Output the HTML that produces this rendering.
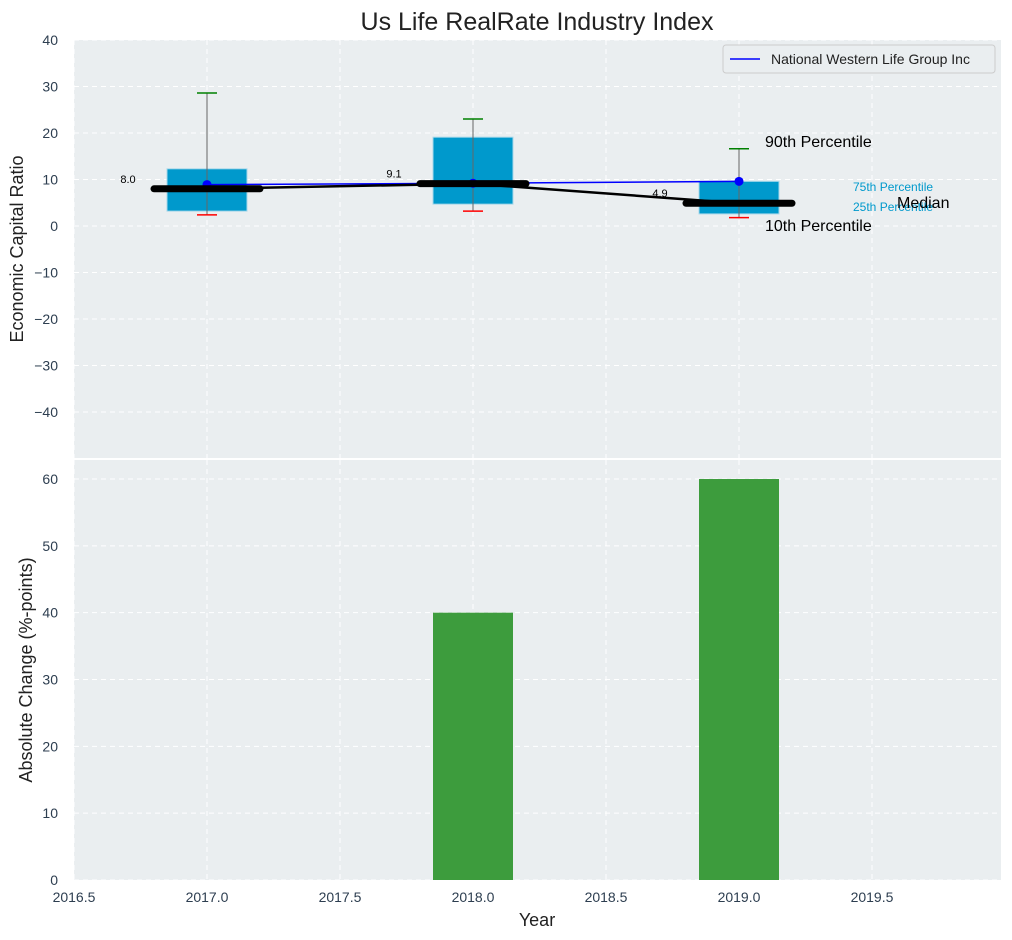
<!DOCTYPE html>
<html><head><meta charset="utf-8"><style>
body{margin:0;background:#fff;}
svg{display:block;font-family:"Liberation Sans","DejaVu Sans",sans-serif;}
</style></head><body>
<svg id="c" width="1012" height="940" xmlns="http://www.w3.org/2000/svg"></svg>
<script>
const years=[2017,2018,2019];
const p10=[2.4,3.2,1.8];
const p25=[3.2,4.7,2.6];
const p50=[8.0,9.1,4.9];
const p75=[12.3,19.1,9.6];
const p90=[28.6,23.0,16.6];
const company=[8.9,9.2,9.6];
const changeVals=[0,40,60];
const topTicks=[-40,-30,-20,-10,0,10,20,30,40];
const botTicks=[0,10,20,30,40,50,60];
const xTicks=[2016.5,2017,2017.5,2018,2018.5,2019,2019.5];

const NS="http://www.w3.org/2000/svg";
const svg=document.getElementById('c');
function el(t,a,p){const e=document.createElementNS(NS,t);for(const k in a)e.setAttribute(k,a[k]);(p||svg).appendChild(e);return e;}
const L=74,R=1001;
const X=v=>L+(v-2016.5)*266;
const Y1=v=>226-v*4.65;
const Y2=v=>880-v*(401/60);

let b=el('rect',{x:L,y:40,width:R-L,height:418,fill:'#eaeef0'});

b=el('rect',{x:L,y:460,width:R-L,height:420,fill:'#eaeef0'});


xTicks.forEach(v=>{
  el('line',{x1:X(v),x2:X(v),y1:40,y2:458,stroke:'#fff','stroke-dasharray':'5,4','stroke-width':1});
  el('line',{x1:X(v),x2:X(v),y1:460,y2:880,stroke:'#fff','stroke-dasharray':'5,4','stroke-width':1});
  const t=el('text',{x:X(v),y:902,'text-anchor':'middle','font-size':14,fill:'#2d3e50'});t.textContent=v.toFixed(1);
  
});
topTicks.forEach(v=>{
  el('line',{x1:L,x2:R,y1:Y1(v),y2:Y1(v),stroke:'#fff','stroke-dasharray':'5,4'});
  const t=el('text',{x:58,y:Y1(v)+5,'text-anchor':'end','font-size':14,fill:'#2d3e50'});t.textContent=v<0?'\u2212'+(-v):v;
  
});
botTicks.forEach(v=>{
  el('line',{x1:L,x2:R,y1:Y2(v),y2:Y2(v),stroke:'#fff','stroke-dasharray':'5,4'});
  const t=el('text',{x:58,y:Y2(v)+5,'text-anchor':'end','font-size':14,fill:'#2d3e50'});t.textContent=v;
  
});

years.forEach((yr,i)=>{
  const cx=X(yr),hw=40;
  let r=el('rect',{x:cx-hw,y:Y1(p75[i]),width:2*hw,height:Y1(p25[i])-Y1(p75[i]),fill:'#0099cc',stroke:'#a8d8ea','stroke-width':1});
  
  el('line',{x1:cx,x2:cx,y1:Y1(p90[i]),y2:Y1(p10[i]),stroke:'#666','stroke-width':1});
  let w=el('line',{x1:cx-10,x2:cx+10,y1:Y1(p90[i]),y2:Y1(p90[i]),stroke:'green','stroke-width':1.5});
  
  w=el('line',{x1:cx-10,x2:cx+10,y1:Y1(p10[i]),y2:Y1(p10[i]),stroke:'red','stroke-width':1.5});
  
});
let pts=years.map((y,i)=>X(y)+','+Y1(company[i])).join(' ');
let pl=el('polyline',{points:pts,fill:'none',stroke:'blue','stroke-width':1.5});

years.forEach((y,i)=>{const c=el('circle',{cx:X(y),cy:Y1(company[i]),r:4.5,fill:'blue'});
});
pts=years.map((y,i)=>X(y)+','+Y1(p50[i])).join(' ');
pl=el('polyline',{points:pts,fill:'none',stroke:'#000','stroke-width':2.5});

years.forEach((y,i)=>{
  const m=el('line',{x1:X(y)-53,x2:X(y)+53,y1:Y1(p50[i]),y2:Y1(p50[i]),stroke:'#000','stroke-width':7,'stroke-linecap':'round'});
  
  const t=el('text',{x:X(y)-79,y:Y1(p50[i])-6,'text-anchor':'middle','font-size':11,fill:'#000'});t.textContent=p50[i].toFixed(1);
  
});
const ann=[['90th Percentile',765,147,16,'#000'],['10th Percentile',765,231,16,'#000'],['75th Percentile',853,191,12,'#0099cc'],['25th Percentile',853,211,12,'#0099cc'],['Median',897,208,16,'#000']];
ann.forEach(a=>{const t=el('text',{x:a[1],y:a[2],'font-size':a[3],fill:a[4]});t.textContent=a[0];
});

years.forEach((y,i)=>{if(changeVals[i]<=0)return;
  const r=el('rect',{x:X(y)-40,y:Y2(changeVals[i]),width:80,height:Y2(0)-Y2(changeVals[i]),fill:'#3d9c3d'});
  });

const g=el('g',{});
el('rect',{x:723,y:45,width:272,height:28,rx:3,fill:'#eaeef0',stroke:'#ccc'},g);
el('line',{x1:730,x2:760,y1:59,y2:59,stroke:'blue','stroke-width':1.5},g);
let t=el('text',{x:771,y:64,'font-size':14,fill:'#222'},g);t.textContent='National Western Life Group Inc';

t=el('text',{x:537,y:30,'text-anchor':'middle','font-size':25,fill:'#222'});t.textContent='Us Life RealRate Industry Index';

t=el('text',{x:0,y:0,'text-anchor':'middle','font-size':18,fill:'#222',transform:'translate(23,249) rotate(-90)'});t.textContent='Economic Capital Ratio';

t=el('text',{x:0,y:0,'text-anchor':'middle','font-size':18,fill:'#222',transform:'translate(32,670) rotate(-90)'});t.textContent='Absolute Change (%-points)';

t=el('text',{x:537,y:926,'text-anchor':'middle','font-size':18,fill:'#222'});t.textContent='Year';

</script>
</body></html>
